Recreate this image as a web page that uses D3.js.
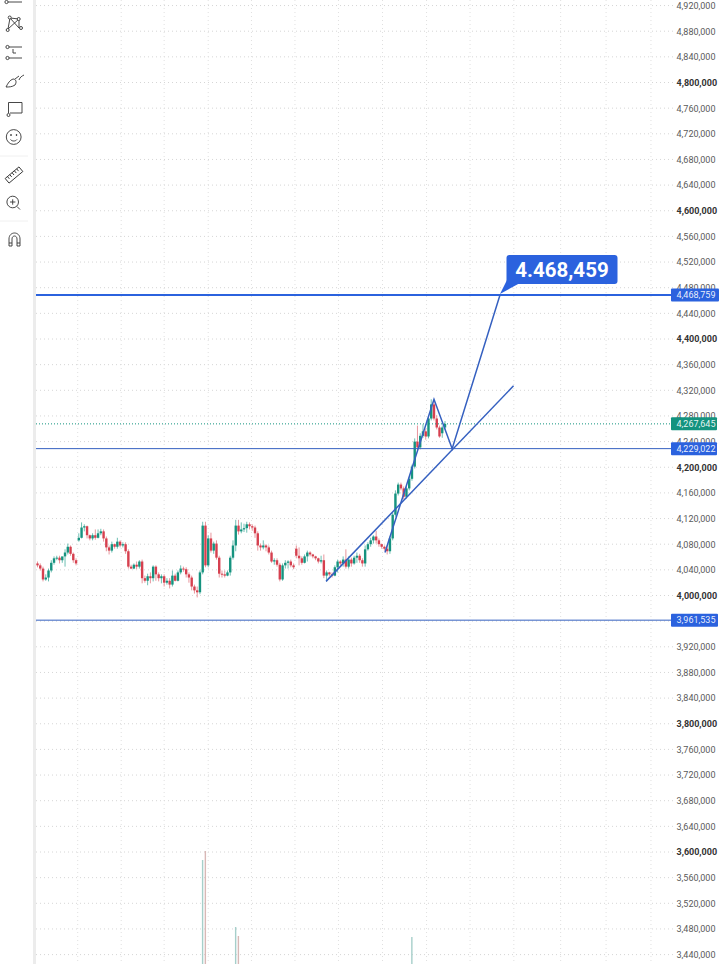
<!DOCTYPE html>
<html>
<head>
<meta charset="utf-8">
<script src="https://cdn.jsdelivr.net/npm/d3@7"></script>
<style>
body { margin: 0; background: #fff; overflow: hidden; }
text { font-family: Roboto, sans-serif; }
</style>
</head>
<body>
<div id="main"></div>
<script>
// all prices in thousands
var opens = [4050,4047,4042,4025,4028,4039,4051,4058,4059,4055,4061,4067,4076,4065,4055,4086,4090,4106,4108,4094,4089,4094,4090,4097,4100,4089,4075,4070,4080,4076,4084,4078,4080,4069,4045,4042,4048,4045,4053,4027,4023,4030,4027,4045,4033,4027,4030,4020,4023,4017,4031,4023,4036,4042,4041,4033,4028,4014,4008,4005,4036,4109,4047,4089,4070,4081,4059,4034,4033,4031,4036,4059,4078,4109,4100,4103,4105,4111,4108,4106,4097,4078,4075,4078,4075,4067,4053,4055,4048,4025,4047,4051,4053,4047,4073,4062,4058,4051,4061,4067,4064,4061,4058,4053,4055,4031,4036,4033,4031,4044,4053,4050,4056,4045,4056,4050,4059,4062,4055,4050,4072,4080,4086,4092,4086,4080,4076,4073,4069,4089,4126,4159,4173,4167,4154,4167,4182,4201,4240,4231,4249,4256,4248,4276,4298,4276,4262,4253,4262];
var closes = [4047,4042,4025,4028,4039,4051,4058,4059,4055,4061,4067,4076,4065,4055,4050,4090,4106,4108,4094,4089,4094,4090,4097,4100,4089,4075,4070,4080,4076,4084,4078,4080,4069,4045,4042,4048,4045,4053,4027,4023,4030,4027,4045,4033,4027,4030,4020,4023,4017,4031,4023,4036,4042,4041,4033,4028,4014,4008,4005,4036,4109,4047,4089,4070,4081,4059,4034,4033,4031,4036,4059,4078,4109,4100,4103,4105,4111,4108,4106,4097,4078,4075,4078,4075,4067,4053,4055,4048,4025,4047,4051,4053,4047,4044,4062,4058,4051,4061,4067,4064,4061,4058,4053,4055,4031,4036,4033,4031,4044,4053,4050,4056,4045,4056,4050,4059,4062,4055,4050,4072,4080,4086,4092,4086,4080,4076,4073,4069,4089,4126,4159,4173,4167,4154,4167,4182,4201,4240,4231,4249,4256,4248,4276,4298,4276,4262,4248,4262,4267.6];
var highs = [4053,4050,4045,4033,4042,4055,4061,4062,4062,4058,4072,4081,4078,4067,4058,4097,4114,4111,4109,4095,4097,4103,4103,4104,4103,4092,4078,4084,4081,4090,4086,4083,4083,4072,4048,4050,4053,4055,4056,4031,4034,4036,4047,4047,4036,4033,4033,4027,4027,4039,4034,4039,4047,4045,4044,4036,4031,4017,4014,4039,4115,4115,4094,4098,4084,4086,4062,4039,4039,4039,4062,4086,4118,4118,4114,4112,4115,4114,4111,4109,4100,4081,4086,4080,4078,4070,4058,4058,4051,4050,4055,4055,4056,4050,4078,4075,4061,4064,4070,4069,4065,4062,4059,4062,4064,4039,4037,4036,4047,4056,4055,4061,4072,4061,4059,4062,4067,4065,4058,4078,4083,4090,4094,4101,4089,4081,4078,4078,4092,4129,4164,4176,4176,4170,4170,4185,4204,4245,4265,4253,4267,4260,4279,4306,4304,4281,4265,4265,4272];
var lows = [4044,4039,4022,4023,4022,4036,4048,4055,4050,4051,4045,4064,4062,4051,4047,4084,4089,4100,4089,4086,4086,4087,4089,4094,4084,4069,4064,4067,4073,4073,4075,4075,4065,4042,4041,4041,4041,4042,4019,4020,4016,4019,4022,4023,4022,4019,4014,4017,4011,4014,4022,4022,4033,4037,4028,4020,4008,4003,3997,4002,4033,4044,4044,4067,4065,4056,4028,4028,4028,4030,4031,4056,4069,4095,4097,4099,4098,4103,4101,4090,4070,4070,4072,4069,4064,4051,4048,4045,4022,4023,4042,4042,4044,4041,4058,4047,4048,4050,4053,4061,4058,4055,4050,4050,4027,4022,4030,4028,4030,4036,4047,4045,4042,4042,4045,4048,4051,4051,4045,4045,4070,4076,4081,4081,4076,4073,4070,4064,4065,4086,4123,4156,4164,4150,4151,4164,4179,4198,4226,4228,4246,4243,4245,4273,4273,4259,4246,4246,4259];

// volume pane, only the tall bars reach the visible part
var volumeBars = [60, 61, 72, 73, 136];
var volumes = [104, 113, 37, 28, 27];

var priceTicks = [4920,4880,4840,4800,4760,4720,4680,4640,4600,4560,4520,4480,4440,4400,4360,4320,4280,4240,4200,4160,4120,4080,4040,4000,3960,3920,3880,3840,3800,3760,3720,3680,3640,3600,3560,3520,3480,3440];
var boldTicks = [4800,4600,4400,4200,4000,3800,3600];
var gridBars = [14.6,30.4,46,62,77.7,93.5,109.3,125.3,141.3,157.1,173,190,206.5,222.8];

var lastPrice = 4267.645;
var levels = [4468.759, 4229.022, 3961.535];
var trendA = [[104.8,4022],[172.9,4327]];
var zigzag = [[126.2,4067],[144,4306],[150.6,4229],[168,4469]];
var calloutLabel = "4.468,459";

var blue = "#2b62de", lineBlue = "#3560c0", upColor = "#14937f", downColor = "#d6404f";

var svg = d3.select("#main").append("svg")
    .attr("width", 719)
    .attr("height", 964)
    .style("display", "block");

var defs = svg.append("defs");
defs.append("filter").attr("id", "soft")
    .append("feGaussianBlur").attr("stdDeviation", 0.45);

var x = d3.scaleLinear().domain([0, 148]).range([37.5, 445]);
var y = d3.scaleLinear().domain([4000, 4800]).range([595.5, 82.5]);
var vol = d3.scaleLinear().domain([0, 113]).range([964, 851]);

// grid
svg.append("g").selectAll("line").data(priceTicks).join("line")
    .attr("x1", 36).attr("x2", 673)
    .attr("y1", d => y(d)).attr("y2", d => y(d))
    .attr("stroke", "#d6d6d6").attr("stroke-dasharray", "1,3");
svg.append("g").selectAll("line").data(gridBars).join("line")
    .attr("x1", d => x(d)).attr("x2", d => x(d))
    .attr("y1", 0).attr("y2", 964)
    .attr("stroke", "#e0e0e0").attr("stroke-dasharray", "1,3");

// volume
svg.append("g").selectAll("rect").data(volumeBars).join("rect")
    .attr("x", d => x(d) - 0.8)
    .attr("width", 1.4)
    .attr("y", (d, i) => vol(volumes[i]))
    .attr("height", (d, i) => 964 - vol(volumes[i]))
    .attr("fill", d => closes[d] >= opens[d] ? "#a6cfca" : "#d8b8b6");

// candles
var candles = svg.append("g").attr("filter", "url(#soft)");
var idx = d3.range(closes.length);
candles.selectAll("line").data(idx).join("line")
    .attr("x1", d => x(d)).attr("x2", d => x(d))
    .attr("y1", d => y(highs[d])).attr("y2", d => y(lows[d]))
    .attr("stroke", d => closes[d] >= opens[d] ? "#5db8aa" : "#e58a92")
    .attr("stroke-width", 0.9);
candles.selectAll("rect").data(idx).join("rect")
    .attr("x", d => x(d) - 1.2)
    .attr("width", 2.4)
    .attr("y", d => y(Math.max(opens[d], closes[d])))
    .attr("height", d => Math.max(1, Math.abs(y(opens[d]) - y(closes[d]))))
    .attr("fill", d => closes[d] >= opens[d] ? upColor : downColor);

// last price
svg.append("line")
    .attr("x1", 36).attr("x2", 672)
    .attr("y1", y(lastPrice)).attr("y2", y(lastPrice))
    .attr("stroke", upColor).attr("stroke-dasharray", "1,2");

// horizontal levels
svg.append("g").selectAll("line").data(levels).join("line")
    .attr("x1", 36).attr("x2", 672)
    .attr("y1", d => y(d)).attr("y2", d => y(d))
    .attr("stroke", (d, i) => i == 0 ? blue : lineBlue)
    .attr("stroke-width", (d, i) => i == 0 ? 2 : 1);

// drawn lines
var line = d3.line().x(d => x(d[0])).y(d => y(d[1]));
svg.append("path").attr("d", line(trendA))
    .attr("fill", "none").attr("stroke", lineBlue).attr("stroke-width", 1.5);
svg.append("path").attr("d", line(zigzag))
    .attr("fill", "none").attr("stroke", lineBlue).attr("stroke-width", 1.5);

// callout
svg.append("path").attr("d", "M500,294L507,280L520,283Z").attr("fill", blue);
svg.append("rect")
    .attr("x", 506.5).attr("y", 255).attr("width", 111).attr("height", 29)
    .attr("rx", 3).attr("fill", blue);
svg.append("text")
    .attr("x", 562).attr("y", 277)
    .attr("text-anchor", "middle")
    .attr("font-size", 20.5).attr("font-weight", 700)
    .attr("fill", "#fff")
    .text(calloutLabel);

// price axis
var axis = d3.axisRight(y)
    .tickValues(priceTicks)
    .tickSize(0)
    .tickPadding(0)
    .tickFormat(d => d3.format(",")(d * 1000));
var axisG = svg.append("g").attr("transform", "translate(676.5,0)").call(axis);
axisG.select(".domain").remove();
axisG.selectAll("text")
    .attr("font-size", 9)
    .attr("font-family", "Roboto, sans-serif")
    .attr("font-weight", d => boldTicks.indexOf(d) >= 0 ? 700 : 400)
    .attr("fill", d => boldTicks.indexOf(d) >= 0 ? "#333" : "#5a5a5a");

// price tags
var tags = [
  { v: levels[0], c: blue, w: 48 },
  { v: lastPrice, c: upColor, w: 46 },
  { v: levels[1], c: blue, w: 46 },
  { v: levels[2], c: blue, w: 47 }
];
var tag = svg.append("g").selectAll("g").data(tags).join("g")
    .attr("transform", d => "translate(671," + y(d.v) + ")");
tag.append("rect")
    .attr("y", -6.5).attr("width", d => d.w).attr("height", 13)
    .attr("rx", 1).attr("fill", d => d.c);
tag.append("text")
    .attr("x", 5.5).attr("y", 3.3)
    .attr("font-size", 9).attr("fill", "#fff")
    .attr("fill-opacity", 0.9)
    .text(d => d3.format(",")(Math.round(d.v * 1000)));

// left toolbar
var bar = svg.append("g");
bar.append("rect").attr("x", 33).attr("y", 0).attr("width", 3).attr("height", 964).attr("fill", "#ececec");
bar.append("line").attr("x1", 0).attr("x2", 28).attr("y1", 156).attr("y2", 156).attr("stroke", "#f0f0f0");
bar.append("line").attr("x1", 0).attr("x2", 28).attr("y1", 221).attr("y2", 221).attr("stroke", "#f0f0f0");

var icons = bar.append("g").attr("fill", "none").attr("stroke", "#333").attr("stroke-width", 0.9);
// trend line
icons.append("path").attr("d", "M8,2H22");
icons.append("circle").attr("cx", 6.5).attr("cy", 2).attr("r", 1.6);
// xabcd
icons.append("path").attr("d", "M8,29L10,18L19,28L19,19L10,18M19,19L8,29");
[[9.7,17.5],[18.7,19],[21,28],[7.7,30]].forEach(p => icons.append("circle").attr("cx", p[0]).attr("cy", p[1]).attr("r", 1.5).attr("fill", "#fff"));
// fib
icons.append("path").attr("d", "M9,47H22M9,58H22M13,49V53H16");
icons.append("circle").attr("cx", 7.5).attr("cy", 47).attr("r", 1.6).attr("fill", "#fff");
icons.append("circle").attr("cx", 7.5).attr("cy", 58).attr("r", 1.6).attr("fill", "#fff");
// brush
icons.append("path").attr("d", "M6,87C8,83 10,80 13,79C16,79 17,82 15,85C12,87 9,87 6,87ZM15,79L19,76M19,80C20,77 22,76 24,75");
// comment
icons.append("path").attr("d", "M8.5,113V102.5H22V113H10");
icons.append("circle").attr("cx", 8.5).attr("cy", 115).attr("r", 1.5).attr("fill", "#fff");
// smiley
icons.append("circle").attr("cx", 13.7).attr("cy", 137).attr("r", 7.4);
icons.append("path").attr("d", "M10.5,139.5C12,141.5 15.5,141.5 17,139.5");
icons.append("circle").attr("cx", 11).attr("cy", 135).attr("r", 0.5).attr("fill", "#333");
icons.append("circle").attr("cx", 16.5).attr("cy", 135).attr("r", 0.5).attr("fill", "#333");
// ruler
icons.append("g").attr("transform", "translate(14,175) rotate(-40)").call(g => {
  g.append("rect").attr("x", -9).attr("y", -3).attr("width", 18).attr("height", 6);
  g.append("path").attr("d", "M-6,-3V0M-3,-3V0M0,-3V0M3,-3V0M6,-3V0");
});
// zoom
icons.append("circle").attr("cx", 12.7).attr("cy", 202).attr("r", 5.8);
icons.append("path").attr("d", "M17,206.5L20,209.5M10,202H15.4M12.7,199.3V204.7");
// magnet
icons.append("path").attr("d", "M9,246V239C9,231 20,231 20,239V246H17V239C17,235 12,235 12,239V246ZM9,243H12M17,243H20");
</script>
</body>
</html>
